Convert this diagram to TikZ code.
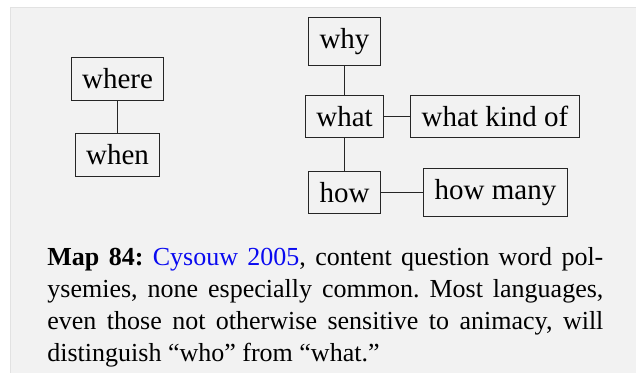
\documentclass[tikz,border=0pt]{standalone}
\usepackage{fontspec}
\setmainfont{Liberation Serif}
\usepackage{tikz}
\definecolor{mapbg}{HTML}{F2F2F2}
\definecolor{mapedge}{HTML}{E2E2E2}
\definecolor{citeblue}{HTML}{0A0AF0}
\newcommand{\mapnum}[1]{\textbf{Map #1:}}
\frenchspacing
\tikzset{
  word/.style={draw=black!85,line width=0.5pt,inner sep=5.5pt,
    font=\fontsize{14.5}{17}\selectfont},
}
\begin{document}
\begin{tikzpicture}[x=0.5pt,y=-0.5pt]
    \useasboundingbox (0,0) rectangle (636,373);
    \fill[mapbg] (11,7.5) rectangle (636,373);
    \draw[mapedge,line width=0.5pt] (10.5,373) -- (10.5,7.5) -- (636,7.5);

    \node[word] (1) at (117.5,79) {where};
    \node[word] (2) at (117.5,155) {when};
    \node[word] (3) at (344.5,41.5) {why};
    \node[word] (4) at (344.5,116.5) {what};
    \node[word] (5) at (495,116.5) {what kind of};
    \node[word] (6) at (344.5,192.5) {how};
    \node[word] (7) at (495.5,192.5) {how many};

    \path[draw=black!85,line width=0.5pt]
    (1) edge (2)
    (3) edge (4)
    (4) edge (6)
    (4) edge (5)
    (6) edge (7)
    ;

    \node[anchor=north west,inner sep=0pt,text width=278pt,align=justify,
      font=\fontsize{13}{16}\selectfont] (cap) at (47,247)
      {\mapnum{84} \textcolor{citeblue}{Cysouw 2005}, content question word pol-\linebreak
       ysemies, none especially common. Most languages,\linebreak
       even those not otherwise sensitive to animacy, will\linebreak
       distinguish “who” from “what.”};
  \end{tikzpicture}
\end{document}
